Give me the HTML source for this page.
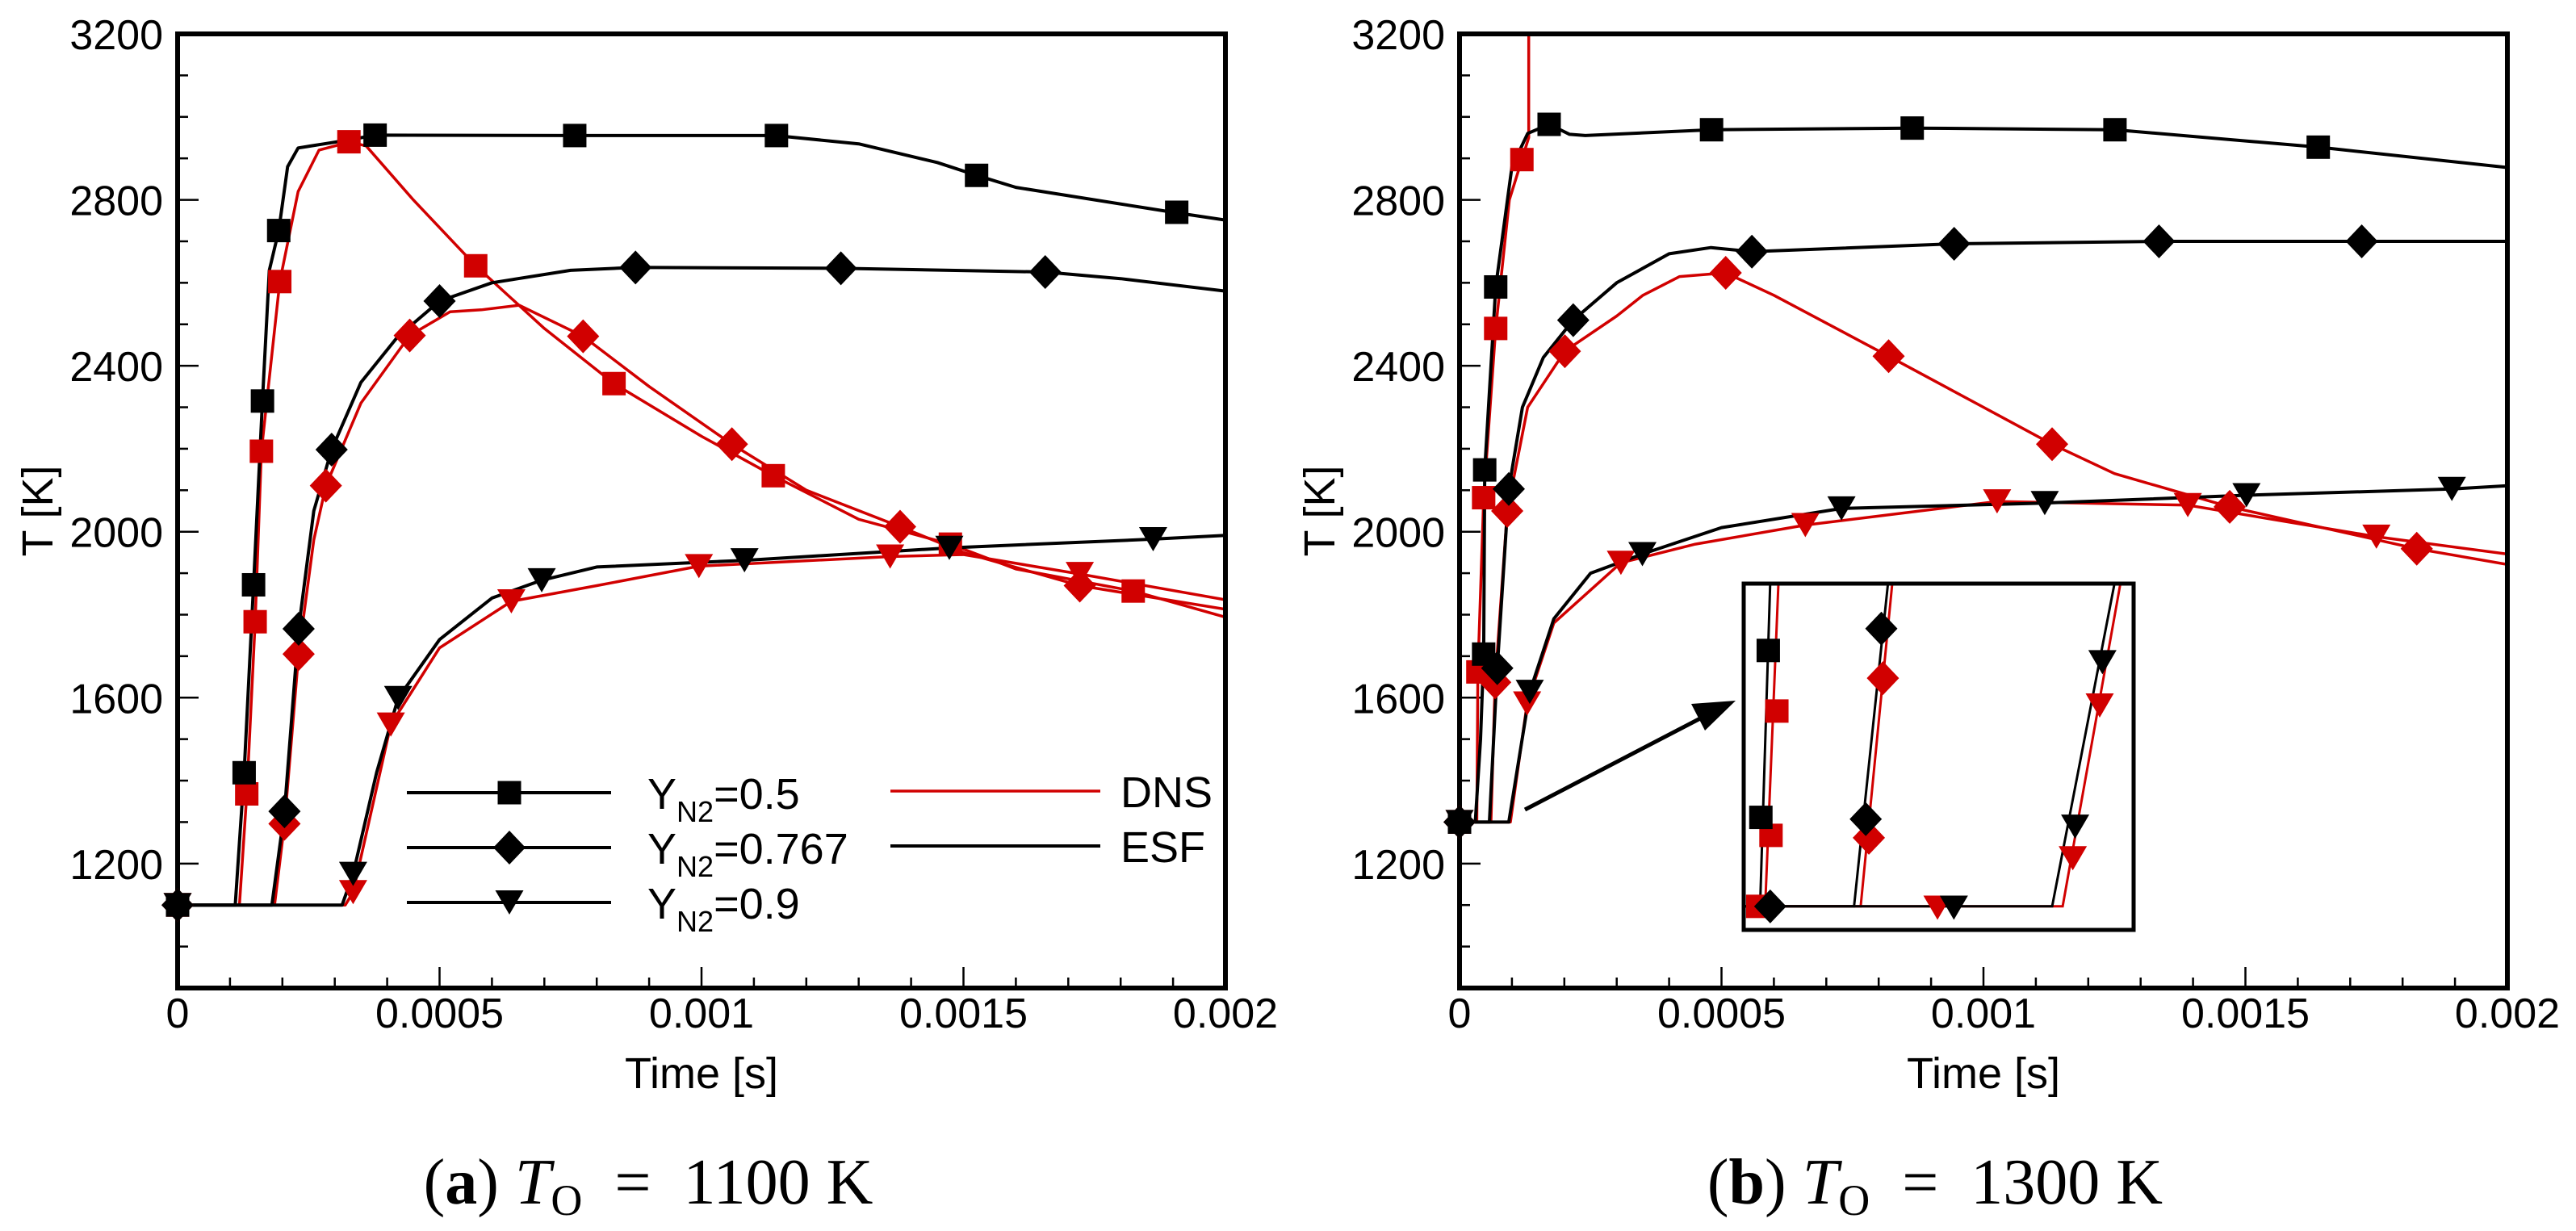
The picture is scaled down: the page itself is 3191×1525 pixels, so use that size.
<!DOCTYPE html>
<html><head><meta charset="utf-8">
<style>
html,body{margin:0;padding:0;background:#fff;}
svg{display:block;}
.tick{font-family:"Liberation Sans",sans-serif;font-size:52px;fill:#000;}
.title{font-family:"Liberation Sans",sans-serif;font-size:54px;fill:#000;}
.leg{font-family:"Liberation Sans",sans-serif;font-size:54px;fill:#000;}
.cap{font-family:"Liberation Serif",serif;font-size:80px;fill:#000;}
</style></head>
<body>
<svg id="fig" width="3191" height="1525" viewBox="0 0 3191 1525" xmlns="http://www.w3.org/2000/svg">
<defs>
<clipPath id="clipA"><rect x="220" y="42" width="1298" height="1182"/></clipPath>
<clipPath id="clipB"><rect x="1808" y="42" width="1298" height="1182"/></clipPath>
</defs>
</svg>
<script>
// ---- Panel (a) T_O = 1100 K ----
const xTicksMajor = [0, 0.0005, 0.001, 0.0015, 0.002];
const xTickLabels = ["0", "0.0005", "0.001", "0.0015", "0.002"];
const yTicksMajor = [1200, 1600, 2000, 2400, 2800, 3200];
const yTickLabels = ["1200", "1600", "2000", "2400", "2800", "3200"];

const a_esf05 = [[0,1100],[0.00011,1100],[0.000127,1419],[0.000145,1872],[0.000162,2315],[0.000175,2630],[0.000193,2726],[0.00021,2880],[0.00023,2925],[0.00028,2935],[0.00033,2945],[0.000377,2956],[0.00075,2955],[0.00114,2955],[0.0013,2935],[0.00145,2890],[0.001525,2859],[0.0016,2830],[0.0019,2770],[0.002,2751]];
const a_dns05 = [[0,1100],[0.000118,1100],[0.000132,1368],[0.000148,1783],[0.00016,2194],[0.000195,2603],[0.00023,2820],[0.00027,2920],[0.0003,2930],[0.000327,2940],[0.00036,2930],[0.00045,2800],[0.000569,2641],[0.0007,2490],[0.000833,2357],[0.001,2230],[0.001137,2135],[0.0013,2030],[0.001475,1970],[0.0016,1910],[0.001824,1857],[0.002,1794]];
const a_esf0767 = [[0,1100],[0.00018,1100],[0.000204,1326],[0.000231,1766],[0.00026,2050],[0.000294,2198],[0.00035,2360],[0.00042,2470],[0.0005,2556],[0.0006,2600],[0.00075,2630],[0.000874,2637],[0.001266,2635],[0.001656,2626],[0.0018,2610],[0.002,2580]];
const a_dns0767 = [[0,1100],[0.000185,1100],[0.000204,1296],[0.000231,1705],[0.00026,1980],[0.000283,2111],[0.00035,2310],[0.000443,2473],[0.00052,2530],[0.00058,2535],[0.000652,2546],[0.000774,2471],[0.0009,2350],[0.001058,2211],[0.0012,2100],[0.001379,2012],[0.0015,1950],[0.001722,1870],[0.002,1813]];
const a_esf09 = [[0,1100],[0.000314,1100],[0.000335,1175],[0.00038,1420],[0.000421,1599],[0.0005,1740],[0.0006,1840],[0.000695,1883],[0.0008,1915],[0.001082,1931],[0.001473,1961],[0.001862,1982],[0.002,1991]];
const a_dns09 = [[0,1100],[0.00032,1100],[0.000335,1131],[0.000407,1535],[0.0005,1720],[0.000637,1832],[0.0008,1870],[0.000995,1917],[0.00136,1940],[0.0015,1945],[0.001722,1898],[0.002,1836]];

const a_mk_esf05 = [[0,1100],[0.000127,1419],[0.000145,1872],[0.000162,2315],[0.000193,2726],[0.000377,2956],[0.000758,2955],[0.001143,2955],[0.001525,2859],[0.001907,2770]];
const a_mk_dns05 = [[0,1100],[0.000132,1368],[0.000148,1783],[0.00016,2194],[0.000195,2603],[0.000327,2940],[0.000569,2641],[0.000833,2357],[0.001137,2135],[0.001475,1970],[0.001824,1857]];
const a_mk_esf0767 = [[0,1100],[0.000204,1326],[0.000231,1766],[0.000294,2198],[0.0005,2556],[0.000874,2637],[0.001266,2635],[0.001656,2626]];
const a_mk_dns0767 = [[0,1100],[0.000204,1296],[0.000231,1705],[0.000283,2111],[0.000443,2473],[0.000774,2471],[0.001058,2211],[0.001379,2012],[0.001722,1870]];
const a_mk_esf09 = [[0,1100],[0.000335,1175],[0.000421,1599],[0.000695,1883],[0.001082,1931],[0.001473,1961],[0.001862,1982]];
const a_mk_dns09 = [[0,1100],[0.000335,1131],[0.000407,1535],[0.000637,1832],[0.000995,1917],[0.00136,1940],[0.001722,1898]];

// ---- Panel (b) T_O = 1300 K ----
const b_esf05 = [[0,1300],[0.00003,1300],[0.00004,1500],[0.000046,1705],[0.000048,2149],[0.000069,2590],[0.0001,2880],[0.00013,2960],[0.000171,2982],[0.00021,2958],[0.00024,2955],[0.000481,2969],[0.000864,2973],[0.001251,2969],[0.001639,2927],[0.002,2878]];
const b_dns05 = [[0,1300],[0.000033,1300],[0.000035,1662],[0.000046,2082],[0.000069,2490],[0.000095,2800],[0.000119,2897],[0.000132,2950],[0.000132,3400]];
const b_esf0767 = [[0,1300],[0.000057,1300],[0.000072,1671],[0.000094,2103],[0.00012,2300],[0.00016,2420],[0.000217,2510],[0.0003,2600],[0.0004,2670],[0.00048,2685],[0.000558,2675],[0.000944,2694],[0.001335,2700],[0.001722,2700],[0.002,2700]];
const b_dns0767 = [[0,1300],[0.00006,1300],[0.000068,1637],[0.000091,2050],[0.00013,2300],[0.000201,2435],[0.0003,2520],[0.00035,2570],[0.00042,2615],[0.000508,2624],[0.0006,2570],[0.000819,2423],[0.001,2300],[0.001131,2211],[0.00125,2140],[0.00147,2060],[0.001827,1959],[0.002,1921]];
const b_esf09 = [[0,1300],[0.000094,1300],[0.000134,1614],[0.00018,1790],[0.00025,1900],[0.000349,1946],[0.0005,2010],[0.000729,2056],[0.001117,2069],[0.001502,2088],[0.001894,2103],[0.002,2111]];
const b_dns09 = [[0,1300],[0.000097,1300],[0.000129,1586],[0.00018,1780],[0.000308,1925],[0.00045,1970],[0.00066,2016],[0.001026,2073],[0.00139,2064],[0.00175,1988],[0.002,1946]];

const b_mk_esf05 = [[0,1300],[0.000046,1705],[0.000048,2149],[0.000069,2590],[0.000171,2982],[0.000481,2969],[0.000864,2973],[0.001251,2969],[0.001639,2927]];
const b_mk_dns05 = [[0,1300],[0.000035,1662],[0.000046,2082],[0.000069,2490],[0.000119,2897]];
const b_mk_esf0767 = [[0,1300],[0.000072,1671],[0.000094,2103],[0.000217,2510],[0.000558,2675],[0.000944,2694],[0.001335,2700],[0.001722,2700]];
const b_mk_dns0767 = [[0,1300],[0.000068,1637],[0.000091,2050],[0.000201,2435],[0.000508,2624],[0.000819,2423],[0.001131,2211],[0.00147,2060],[0.001827,1959]];
const b_mk_esf09 = [[0,1300],[0.000134,1614],[0.000349,1946],[0.000729,2056],[0.001117,2069],[0.001502,2088],[0.001894,2103]];
const b_mk_dns09 = [[0,1300],[0.000129,1586],[0.000308,1925],[0.00066,2016],[0.001026,2073],[0.00139,2064],[0.00175,1988]];

// ---- Inset (normalised inset units 0..1) ----
const in_esf05 = [[0,0.068],[0.042,0.068],[0.068,1]];
const in_dns05 = [[0,0.068],[0.055,0.068],[0.089,1]];
const in_esf0767 = [[0,0.068],[0.283,0.068],[0.370,1]];
const in_dns0767 = [[0,0.068],[0.300,0.068],[0.381,1]];
const in_esf09 = [[0,0.068],[0.791,0.068],[0.951,1]];
const in_dns09 = [[0,0.068],[0.818,0.068],[0.966,1]];
const in_mk_esf05 = [[0.063,0.807],[0.044,0.325]];
const in_mk_dns05 = [[0.085,0.632],[0.070,0.273],[0.036,0.068]];
const in_mk_esf0767 = [[0.353,0.870],[0.313,0.320],[0.068,0.068]];
const in_mk_dns0767 = [[0.357,0.727],[0.321,0.266]];
const in_mk_esf09 = [[0.920,0.773],[0.850,0.298],[0.539,0.064]];
const in_mk_dns09 = [[0.913,0.648],[0.844,0.207],[0.497,0.064]];

const RED = "#d10000", BLK = "#000";
const NS = "http://www.w3.org/2000/svg";
const svg = document.getElementById("fig");
function mk(tag, attrs, parent){ const e=document.createElementNS(NS,tag); for(const k in attrs) e.setAttribute(k,attrs[k]); (parent||svg).appendChild(e); return e; }

function markerShape(g, type, cx, cy, color, scale){
  const s = scale||1; let e;
  if(type==="sq"){ const h=14.5*s; e=mk("rect",{x:cx-h,y:cy-h,width:2*h,height:2*h,fill:color},g); }
  else if(type==="di"){ const w=20*s, h=21*s; e=mk("polygon",{points:`${cx},${cy-h} ${cx+w},${cy} ${cx},${cy+h} ${cx-w},${cy}`,fill:color},g); }
  else { const w=17.5*s, h=15*s; e=mk("polygon",{points:`${cx-w},${cy-h} ${cx+w},${cy-h} ${cx},${cy+h}`,fill:color},g); }
  return e;
}

function panel(id, X0, clipId, series, yLabX){
  const x0=X0, x1=X0+1298, yT=42, yB=1224;
  const xs = t => x0 + (t/0.002)*(x1-x0);
  const ys = T => yB - ((T-900)/2300)*(yB-yT);
  const g = mk("g",{});
  
  
  for(let i=0;i<=20;i++){
    const t=i*0.0001, major=(i%5===0), L=major?26:13;
    const tk=mk("line",{x1:xs(t),x2:xs(t),y1:yB,y2:yB-L,stroke:"#000","stroke-width":2.5},g);
    
    
  }
  for(let T=900;T<=3200;T+=100){
    const major=(T%400===0), L=major?26:13;
    const tk=mk("line",{x1:x0,x2:x0+L,y1:ys(T),y2:ys(T),stroke:"#000","stroke-width":2.5},g);
    
    
  }
  xTicksMajor.forEach((t,i)=>{
    const tx=mk("text",{x:xs(t),y:1273,"text-anchor":"middle",class:"tick"},g);
    tx.textContent=xTickLabels[i];
    
    
  });
  yTicksMajor.forEach((T,i)=>{
    const tx=mk("text",{x:yLabX,y:ys(T)+19,"text-anchor":"end",class:"tick"},g);
    tx.textContent=yTickLabels[i];
    
    
  });
  const cg = mk("g",{"clip-path":`url(#${clipId})`},g);
  series.forEach(s=>{
    const d = s.line.map((p,i)=>(i?"L":"M")+xs(p[0]).toFixed(1)+","+ys(p[1]).toFixed(1)).join(" ");
    const pl = mk("path",{d:d,fill:"none",stroke:s.color,"stroke-width":s.color===RED?3.5:4,"stroke-linejoin":"round"},cg);
    
    
  });
  const fr = mk("rect",{x:x0,y:yT,width:x1-x0,height:yB-yT,fill:"none",stroke:"#000","stroke-width":6},g);
  
  
  const mg = mk("g",{},g);
  series.forEach(s=>{
    s.marks.forEach(p=>{
      const m = markerShape(mg, s.type, xs(p[0]), ys(p[1]), s.color);
      
      
    });
  });
  const xt = mk("text",{x:(x0+x1)/2,y:1348,"text-anchor":"middle",class:"title"},g);
  xt.textContent="Time [s]";
  
  
  const yt = mk("text",{x:0,y:0,"text-anchor":"middle",class:"title",transform:`translate(${x0-155},633) rotate(-90)`},g);
  yt.textContent="T [K]";
  
  
  return g;
}

panel("panel-a", 220, "clipA", [
  {name:"dns-yn2-0.5",color:RED,type:"sq",line:a_dns05,marks:a_mk_dns05},
  {name:"dns-yn2-0.767",color:RED,type:"di",line:a_dns0767,marks:a_mk_dns0767},
  {name:"dns-yn2-0.9",color:RED,type:"tr",line:a_dns09,marks:a_mk_dns09},
  {name:"esf-yn2-0.5",color:BLK,type:"sq",line:a_esf05,marks:a_mk_esf05},
  {name:"esf-yn2-0.767",color:BLK,type:"di",line:a_esf0767,marks:a_mk_esf0767},
  {name:"esf-yn2-0.9",color:BLK,type:"tr",line:a_esf09,marks:a_mk_esf09}
], 202);
panel("panel-b", 1808, "clipB", [
  {name:"dns-yn2-0.5",color:RED,type:"sq",line:b_dns05,marks:b_mk_dns05},
  {name:"dns-yn2-0.767",color:RED,type:"di",line:b_dns0767,marks:b_mk_dns0767},
  {name:"dns-yn2-0.9",color:RED,type:"tr",line:b_dns09,marks:b_mk_dns09},
  {name:"esf-yn2-0.5",color:BLK,type:"sq",line:b_esf05,marks:b_mk_esf05},
  {name:"esf-yn2-0.767",color:BLK,type:"di",line:b_esf0767,marks:b_mk_esf0767},
  {name:"esf-yn2-0.9",color:BLK,type:"tr",line:b_esf09,marks:b_mk_esf09}
], 1790);

// ---- Inset ----
(function(){
  const L=2160, R=2643, T=723, B=1152;
  const ux=u=>L+u*(R-L), vy=v=>B-v*(B-T);
  const g=mk("g",{});
  
  
  mk("rect",{x:L,y:T,width:R-L,height:B-T,fill:"#fff"},g);
  const cg=mk("g",{},g);
  const ser=[
    [in_dns05,in_mk_dns05,RED,"sq","inset-dns-0.5"],[in_dns0767,in_mk_dns0767,RED,"di","inset-dns-0.767"],[in_dns09,in_mk_dns09,RED,"tr","inset-dns-0.9"],
    [in_esf05,in_mk_esf05,BLK,"sq","inset-esf-0.5"],[in_esf0767,in_mk_esf0767,BLK,"di","inset-esf-0.767"],[in_esf09,in_mk_esf09,BLK,"tr","inset-esf-0.9"]];
  ser.forEach(s=>{
    const d=s[0].map((p,i)=>(i?"L":"M")+ux(p[0]).toFixed(1)+","+vy(p[1]).toFixed(1)).join(" ");
    const pl=mk("path",{d:d,fill:"none",stroke:s[2],"stroke-width":3},cg);
    
    
  });
  ser.forEach(s=>{
    s[1].forEach(p=>{
      const m=markerShape(cg,s[3],ux(p[0]),vy(p[1]),s[2]);
      
      
    });
  });
  const fr=mk("rect",{x:L,y:T,width:R-L,height:B-T,fill:"none",stroke:"#000","stroke-width":5},g);
  
  
  const ar=mk("line",{x1:1889,y1:1003,x2:2110,y2:888,stroke:"#000","stroke-width":5},svg);
  
  
  const ah=mk("polygon",{points:"2150,868 2095,872 2112,905",fill:"#000"},svg);
  
  
})();

// ---- Legend (panel a) ----
(function(){
  const g=mk("g",{});
  
  
  const rows=[["sq","0.5",982],["di","0.767",1050],["tr","0.9",1118]];
  rows.forEach(r=>{
    const ln=mk("line",{x1:504,x2:757,y1:r[2],y2:r[2],stroke:"#000","stroke-width":4},g);
    
    
    const m=markerShape(g,r[0],631,r[2],BLK);
    
    
    const t=mk("text",{x:802,y:r[2]+20,class:"leg"},g);
    
    
    t.innerHTML='Y<tspan dy="16" font-size="36">N2</tspan><tspan dy="-16">='+r[1]+'</tspan>';
  });
  const l1=mk("line",{x1:1103,x2:1363,y1:980,y2:980,stroke:RED,"stroke-width":3.5},g);
  
  
  const l2=mk("line",{x1:1103,x2:1363,y1:1048,y2:1048,stroke:"#000","stroke-width":4},g);
  
  
  const t1=mk("text",{x:1388,y:1000,class:"leg"},g); t1.textContent="DNS";
  
  
  const t2=mk("text",{x:1388,y:1068,class:"leg"},g); t2.textContent="ESF";
  
  
})();

// ---- Captions ----
[["a","1100",803],["b","1300",2397]].forEach(c=>{
  const t=mk("text",{x:c[2],y:1491,"text-anchor":"middle",class:"cap"});
  
  
  t.innerHTML='(<tspan font-weight="bold">'+c[0]+'</tspan>) <tspan font-style="italic">T</tspan><tspan dy="14" font-size="54">O</tspan><tspan dy="-14"> &#160;= &#160;'+c[1]+' K</tspan>';
});
</script>
</body></html>
